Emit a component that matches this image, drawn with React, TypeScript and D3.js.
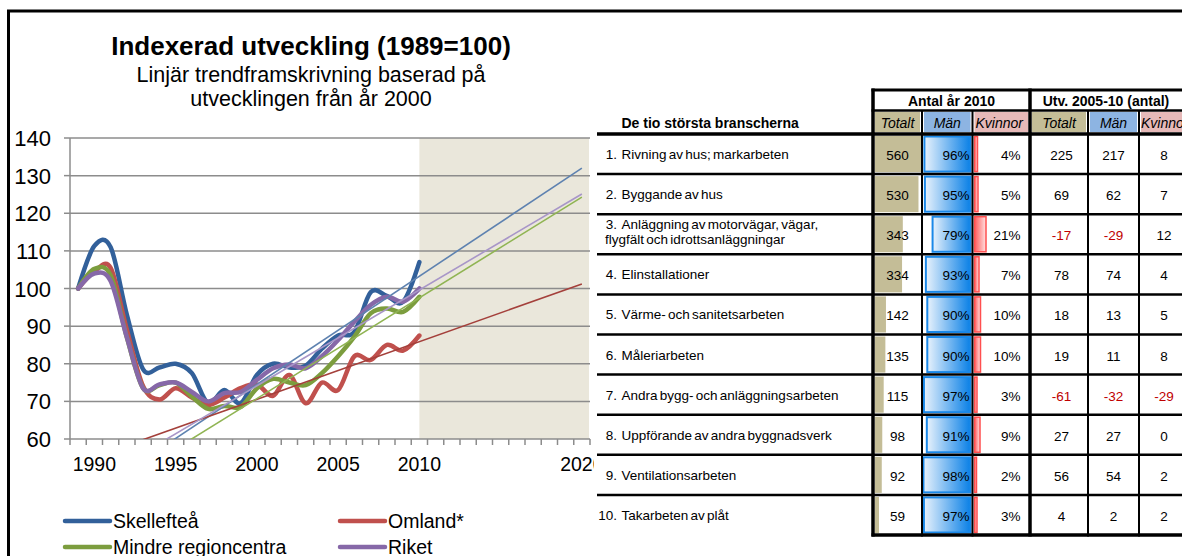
import React, { useRef, useEffect } from "react";
import * as d3 from "d3";

// chart data: index 1989 = 100
const years = [1989, 1990, 1991, 1992, 1993, 1994, 1995, 1996, 1997, 1998, 1999, 2000, 2001, 2002, 2003, 2004, 2005, 2006, 2007, 2008, 2009, 2010];
const axisYears = [1989, 1990, 1991, 1992, 1993, 1994, 1995, 1996, 1997, 1998, 1999, 2000, 2001, 2002, 2003, 2004, 2005, 2006, 2007, 2008, 2009, 2010, 2011, 2012, 2013, 2014, 2015, 2016, 2017, 2018, 2019, 2020];
const yearLabels = [1990, 1995, 2000, 2005, 2010, 2020];
const yTicks = [60, 70, 80, 90, 100, 110, 120, 130, 140];

const seriesNames = ["Skellefteå", "Omland*", "Mindre regioncentra", "Riket"];
const skelleftea = [100, 111.3, 111, 93, 78.5, 79, 80, 77.5, 69.5, 73, 69.5, 77, 80, 79, 79.5, 84, 87.5, 88.5, 99, 98, 96.5, 107];
const omland = [100, 104.5, 105.5, 89, 74, 70.5, 73.5, 71, 69, 71, 73.5, 74.5, 71.5, 77, 69.5, 75, 73, 82, 81, 85, 83.5, 87.5];
const mindre = [100, 105.2, 103.5, 87, 73.5, 74.3, 75, 71.3, 68, 68.8, 68.5, 73.5, 76, 75, 74.3, 77.5, 82, 87.2, 93.4, 94.7, 93.8, 97.8];
const riket = [100, 104, 102, 87, 73.5, 74.5, 75, 72.5, 70, 72.2, 72.5, 75.7, 78.8, 79.8, 78.8, 82, 86.3, 91.2, 95.6, 97.8, 96.5, 100];
const seriesColors = ["#32609A", "#C0504D", "#7C9D3E", "#8668A8"];

// linear trends (values at 1989 and 2020)
const trendFrom = [42.9, 53.7, 41.3, 46.1];
const trendTo = [132, 101.2, 124.3, 125.1];
const trendColors = ["#5E82B0", "#A4403B", "#90B453", "#A896C8"];

// table data
const branchNo = ["1.", "2.", "3.", "4.", "5.", "6.", "7.", "8.", "9.", "10."];
const branchNames = [
  "Rivning av hus; markarbeten",
  "Byggande av hus",
  "Anläggning av motorvägar, vägar,",
  "Elinstallationer",
  "Värme- och sanitetsarbeten",
  "Måleriarbeten",
  "Andra bygg- och anläggningsarbeten",
  "Uppförande av andra byggnadsverk",
  "Ventilationsarbeten",
  "Takarbeten av plåt",
];
const branchExtra = ["", "", "flygfält och idrottsanläggningar", "", "", "", "", "", "", ""];
const antal2010 = [560, 530, 343, 334, 142, 135, 115, 98, 92, 59];
const manPct = [96, 95, 79, 93, 90, 90, 97, 91, 98, 97];
const kvinnorPct = [4, 5, 21, 7, 10, 10, 3, 9, 2, 3];
const utvTotalt = [225, 69, -17, 78, 18, 19, -61, 27, 56, 4];
const utvMan = [217, 62, -29, 74, 13, 11, -32, 27, 54, 2];
const utvKvinnor = [8, 7, 12, 4, 5, 8, -29, 0, 2, 2];
const subHeaders = ["Totalt", "Män", "Kvinnor", "Totalt", "Män", "Kvinnor"];
const subHeaderColors = ["#C4BD97", "#8DB4E2", "#E6B9B8", "#C4BD97", "#8DB4E2", "#E6B9B8"];

const W = 1182;
const H = 556;
const FONT = "'Liberation Sans', Arial, sans-serif";

const App: React.FC = () => {
  const svgRef = useRef<SVGSVGElement | null>(null);

  useEffect(() => {
    if (!svgRef.current) return;
    const svg = d3.select(svgRef.current);
    svg.selectAll("*").remove();
    svg.style("font-family", FONT);

    const defs = svg.append("defs");
    defs.append("clipPath").attr("id", "plotClip")
      .append("rect").attr("x", 70).attr("y", 138).attr("width", 520).attr("height", 301);
    defs.append("clipPath").attr("id", "leftClip")
      .append("rect").attr("x", 0).attr("y", 0).attr("width", 594).attr("height", H);
    const mg = defs.append("linearGradient").attr("id", "manGrad");
    mg.append("stop").attr("offset", "0%").attr("stop-color", "#E8F2FC");
    mg.append("stop").attr("offset", "100%").attr("stop-color", "#0A80E6");
    const kg = defs.append("linearGradient").attr("id", "kvGrad");
    kg.append("stop").attr("offset", "0%").attr("stop-color", "#FF5A5A");
    kg.append("stop").attr("offset", "100%").attr("stop-color", "#FFE3E3");

    // -----------------------------
    // Line chart
    // -----------------------------
    const x = d3.scaleBand<number>().domain(axisYears).range([70, 590]);
    const cx = (yr: number) => (x(yr) as number) + x.bandwidth() / 2;
    const y = d3.scaleLinear().domain([60, 140]).range([439, 138]);

    const chart = svg.append("g").attr("clip-path", "url(#leftClip)");

    chart.append("rect")
      .attr("x", cx(2010)).attr("y", y(140))
      .attr("width", 589 - cx(2010)).attr("height", y(60) - y(140))
      .attr("fill", "#EAE7DB");

    chart.selectAll("line.grid")
      .data(yTicks)
      .enter()
      .append("line")
      .attr("x1", 70).attr("x2", 590)
      .attr("y1", d => y(d)).attr("y2", d => y(d))
      .attr("stroke", "#8C8C8C").attr("stroke-width", 1.5);

    chart.append("line")
      .attr("x1", 70).attr("x2", 70).attr("y1", y(140)).attr("y2", y(60))
      .attr("stroke", "#8C8C8C").attr("stroke-width", 1.5);

    chart.selectAll("line.ytick")
      .data(yTicks)
      .enter()
      .append("line")
      .attr("x1", 64).attr("x2", 70)
      .attr("y1", d => y(d)).attr("y2", d => y(d))
      .attr("stroke", "#8C8C8C").attr("stroke-width", 1.5);

    chart.selectAll("text.ylab")
      .data(yTicks)
      .enter()
      .append("text")
      .attr("x", 51).attr("y", d => y(d) + 8)
      .attr("text-anchor", "end")
      .attr("font-size", "22px")
      .text(d => d);

    chart.selectAll("line.xtick")
      .data(axisYears)
      .enter()
      .append("line")
      .attr("x1", d => x(d) as number).attr("x2", d => x(d) as number)
      .attr("y1", 439).attr("y2", 445)
      .attr("stroke", "#8C8C8C").attr("stroke-width", 1.5);
    chart.append("line")
      .attr("x1", 590).attr("x2", 590).attr("y1", 439).attr("y2", 445)
      .attr("stroke", "#8C8C8C").attr("stroke-width", 1.5);

    chart.selectAll("text.xlab")
      .data(yearLabels)
      .enter()
      .append("text")
      .attr("x", d => cx(d)).attr("y", 471)
      .attr("text-anchor", "middle")
      .attr("font-size", "19.5px")
      .text(d => d);

    const allSeries = [skelleftea, omland, mindre, riket];
    const line = d3.line<number>()
      .x((_, i) => cx(years[i]))
      .y(d => y(d))
      .curve(d3.curveCardinal.tension(0));

    const plot = chart.append("g").attr("clip-path", "url(#plotClip)");
    allSeries.forEach((s, i) => {
      plot.append("path")
        .attr("d", line(s) as string)
        .attr("fill", "none")
        .attr("stroke", seriesColors[i])
        .attr("stroke-width", 4.5)
        .attr("stroke-linejoin", "round")
        .attr("stroke-linecap", "round");
    });

    trendFrom.forEach((v, i) => {
      plot.append("line")
        .attr("x1", cx(1989)).attr("y1", y(v))
        .attr("x2", cx(2020)).attr("y2", y(trendTo[i]))
        .attr("stroke", trendColors[i])
        .attr("stroke-width", 1.6);
    });

    // titles
    svg.append("text")
      .attr("x", 311).attr("y", 55)
      .attr("text-anchor", "middle")
      .attr("font-size", "26px").attr("font-weight", "bold")
      .text("Indexerad utveckling (1989=100)");
    svg.append("text")
      .attr("x", 311).attr("y", 82)
      .attr("text-anchor", "middle")
      .attr("font-size", "21.5px")
      .text("Linjär trendframskrivning baserad på");
    svg.append("text")
      .attr("x", 311).attr("y", 106)
      .attr("text-anchor", "middle")
      .attr("font-size", "21.5px")
      .text("utvecklingen från år 2000");

    // legend (bottom row is cut by the picture edge, as in the source)
    const legendX = [65, 340];
    const legendY = [521, 547];
    seriesNames.forEach((name, i) => {
      const lx = legendX[i % 2];
      const ly = legendY[Math.floor(i / 2)];
      svg.append("line")
        .attr("x1", lx).attr("x2", lx + 45).attr("y1", ly).attr("y2", ly)
        .attr("stroke", seriesColors[i]).attr("stroke-width", 4.5)
        .attr("stroke-linecap", "round");
      svg.append("text")
        .attr("x", lx + 48).attr("y", ly + 7)
        .attr("font-size", "19.5px")
        .text(name);
    });

    // frame
    svg.append("line").attr("x1", 7).attr("x2", W).attr("y1", 11).attr("y2", 11)
      .attr("stroke", "#000").attr("stroke-width", 3);
    svg.append("line").attr("x1", 8.5).attr("x2", 8.5).attr("y1", 10).attr("y2", H)
      .attr("stroke", "#000").attr("stroke-width", 3);

    // -----------------------------
    // Table
    // -----------------------------
    const tbl = svg.append("g");
    const rows = d3.scaleBand<number>().domain(d3.range(antal2010.length)).range([134, 535]);
    const rh = rows.bandwidth();
    const colEdges = [873, 922, 972.5, 1030, 1088, 1139, 1192];

    // sub header cells
    subHeaders.forEach((h, i) => {
      tbl.append("rect")
        .attr("x", colEdges[i] + 2).attr("y", 112)
        .attr("width", colEdges[i + 1] - colEdges[i] - 4).attr("height", 20)
        .attr("fill", subHeaderColors[i]);
      tbl.append("text")
        .attr("x", i === 5 ? 1141 : (colEdges[i] + colEdges[i + 1]) / 2 + (i === 2 ? -2 : 0))
        .attr("y", 128)
        .attr("text-anchor", i === 5 ? "start" : "middle")
        .attr("font-size", "14px").attr("font-style", "italic")
        .text(h);
    });

    tbl.append("text")
      .attr("x", (colEdges[0] + colEdges[3]) / 2).attr("y", 105.5)
      .attr("text-anchor", "middle").attr("font-size", "14px").attr("font-weight", "bold")
      .text("Antal år 2010");
    tbl.append("text")
      .attr("x", (colEdges[3] + 1182) / 2).attr("y", 105.5)
      .attr("text-anchor", "middle").attr("font-size", "14px").attr("font-weight", "bold")
      .text("Utv. 2005-10 (antal)");
    tbl.append("text")
      .attr("x", 621.5).attr("y", 127.5)
      .attr("font-size", "14px").attr("font-weight", "bold")
      .text("De tio största branscherna");

    const totScale = d3.scaleLinear()
      .domain([d3.min(antal2010) as number, d3.max(antal2010) as number])
      .range([4, 46]);
    const manScale = d3.scaleLinear().domain([0, 100]).range([0, 48]);
    const kvScale = d3.scaleLinear().domain([0, 100]).range([1, 51]);

    antal2010.forEach((v, i) => {
      const top = rows(i) as number;
      // data bars
      tbl.append("rect")
        .attr("x", 875).attr("y", top + 2)
        .attr("width", totScale(v)).attr("height", rh - 4)
        .attr("fill", "#C4BD97");
      const mw = manScale(manPct[i]);
      tbl.append("rect")
        .attr("x", 970.5 - mw).attr("y", top + 2.5)
        .attr("width", mw).attr("height", rh - 5)
        .attr("fill", "url(#manGrad)")
        .attr("stroke", "#1A88E8").attr("stroke-width", 2);
      const kw = kvScale(kvinnorPct[i]);
      tbl.append("rect")
        .attr("x", 974.5).attr("y", top + 2.5)
        .attr("width", kw).attr("height", rh - 5)
        .attr("fill", "url(#kvGrad)")
        .attr("stroke", "#FF4F4F").attr("stroke-width", 1.5);

      const base = top + 26;
      tbl.append("text").attr("x", 897.5).attr("y", base)
        .attr("text-anchor", "middle").attr("font-size", "13.5px").text(v);
      tbl.append("text").attr("x", 969.5).attr("y", base)
        .attr("text-anchor", "end").attr("font-size", "13.5px").text(manPct[i] + "%");
      tbl.append("text").attr("x", 1020.5).attr("y", base)
        .attr("text-anchor", "end").attr("font-size", "13.5px").text(kvinnorPct[i] + "%");
      [utvTotalt[i], utvMan[i], utvKvinnor[i]].forEach((u, j) => {
        tbl.append("text")
          .attr("x", [1061.5, 1113.5, 1164][j]).attr("y", base)
          .attr("text-anchor", "middle").attr("font-size", "13.5px")
          .attr("fill", u < 0 ? "#C00000" : "#000")
          .text(u);
      });

      // labels
      if (branchExtra[i]) {
        tbl.append("text").attr("x", 617).attr("y", top + 14.5)
          .attr("text-anchor", "end").attr("font-size", "13.5px").text(branchNo[i]);
        tbl.append("text").attr("x", 621.5).attr("y", top + 14.5)
          .attr("font-size", "13.5px").attr("word-spacing", "-1.5px").text(branchNames[i]);
        tbl.append("text").attr("x", 605).attr("y", top + 29.5)
          .attr("font-size", "13.5px").attr("word-spacing", "-1.5px").text(branchExtra[i]);
      } else {
        tbl.append("text").attr("x", 617).attr("y", top + 25)
          .attr("text-anchor", "end").attr("font-size", "13.5px").text(branchNo[i]);
        tbl.append("text").attr("x", 621.5).attr("y", top + 25)
          .attr("font-size", "13.5px").attr("word-spacing", "-1.5px").text(branchNames[i]);
      }
    });

    // grid lines of the table
    const hline = (x1: number, yy: number, w: number) =>
      tbl.append("line").attr("x1", x1).attr("x2", W).attr("y1", yy).attr("y2", yy)
        .attr("stroke", "#000").attr("stroke-width", w);
    hline(871.5, 90, 3);
    hline(871.5, 110.5, 2.5);
    hline(597, 134, 3.5);
    d3.range(1, antal2010.length).forEach(i => hline(597, rows(i) as number, 2.5));
    hline(871.5, 535, 3.5);

    const vline = (xx: number, y1: number, w: number) =>
      tbl.append("line").attr("x1", xx).attr("x2", xx).attr("y1", y1).attr("y2", 536.5)
        .attr("stroke", "#000").attr("stroke-width", w);
    vline(colEdges[0], 88.5, 3.5);
    vline(colEdges[1], 110, 2);
    vline(colEdges[2], 110, 2);
    vline(colEdges[3], 88.5, 3.5);
    vline(colEdges[4], 110, 2);
    vline(colEdges[5], 110, 2);
  }, []);

  return (
    <svg
      ref={svgRef}
      width={W}
      height={H}
      style={{ position: "absolute", left: 0, top: 0, background: "#fff" }}
    />
  );
};

export default App;
